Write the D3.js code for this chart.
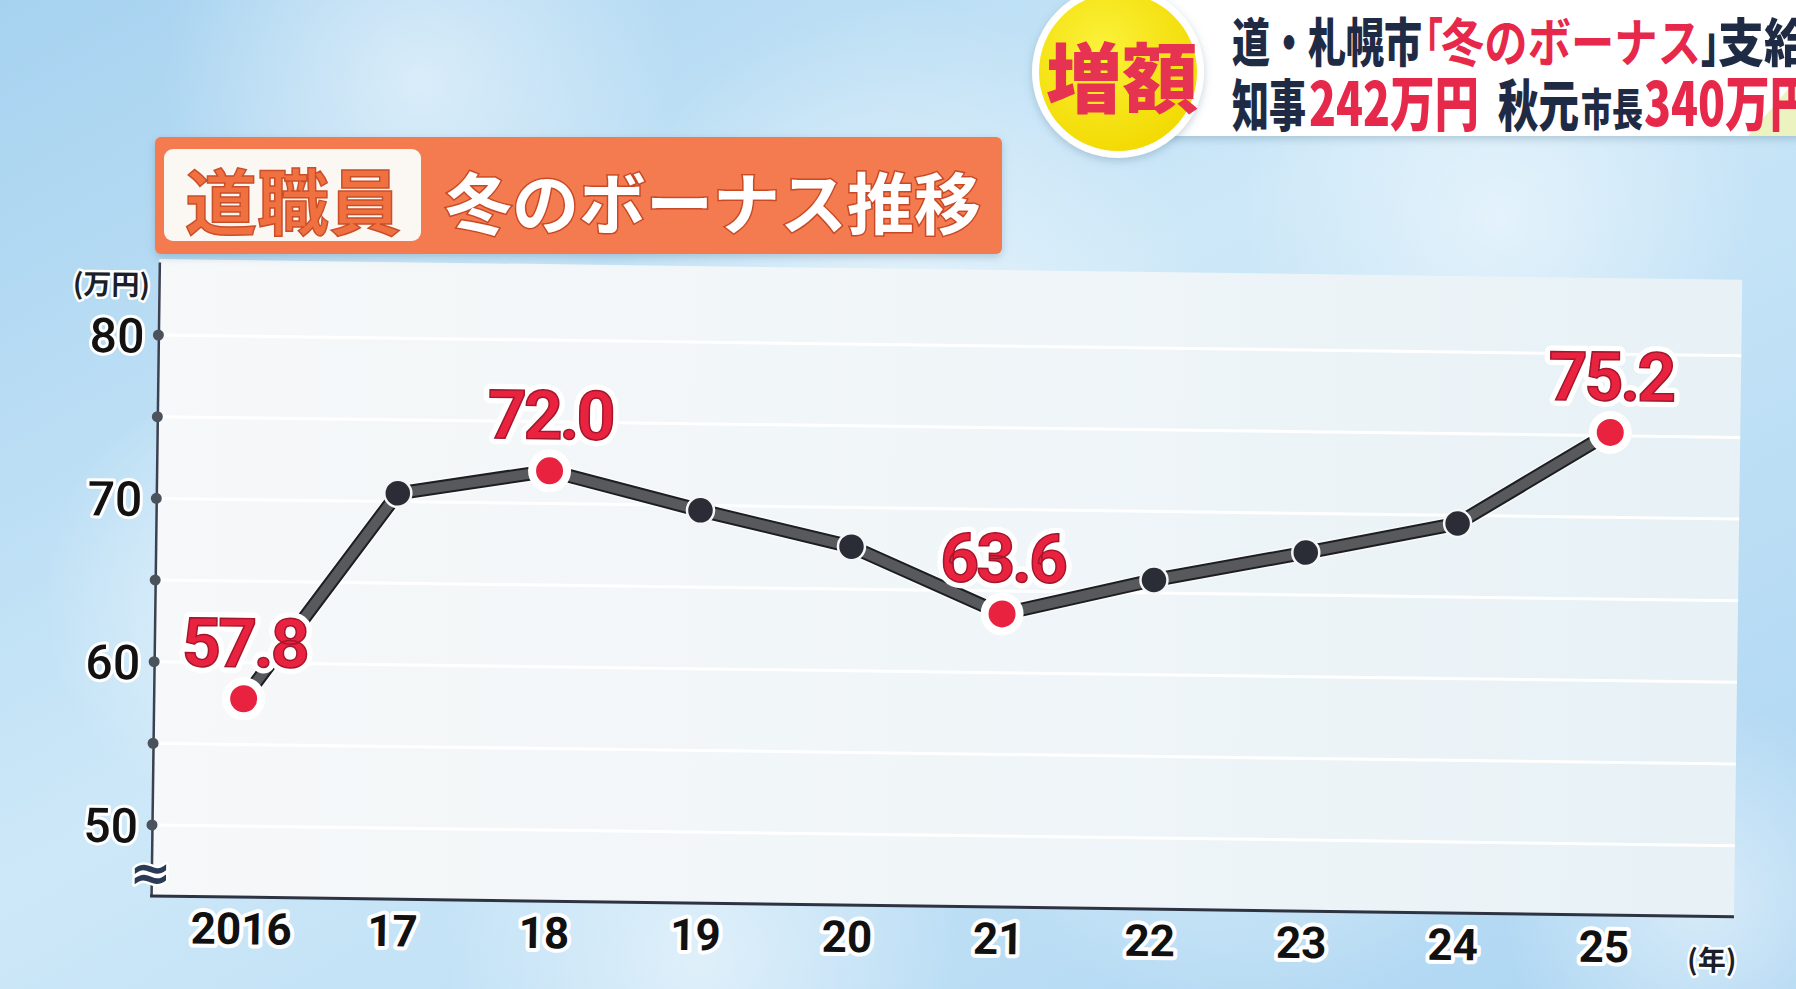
<!DOCTYPE html>
<html>
<head>
<meta charset="utf-8">
<script src="https://cdn.jsdelivr.net/npm/d3@7"></script>
<style>
html, body { margin: 0; padding: 0; overflow: hidden; background: #bde0f6; }
svg { display: block; }
</style>
</head>
<body>
<svg id="chart" width="1796" height="989"></svg>
<script>
// data
var years = ["2016", "17", "18", "19", "20", "21", "22", "23", "24", "25"];
var bonus = [57.8, 70.5, 72.0, 69.7, 67.6, 63.6, 65.8, 67.6, 69.5, 75.2];
var labeled = ["2016", "18", "21", "25"];
var yTicks = [50, 55, 60, 65, 70, 75, 80];
var yLabels = [50, 60, 70, 80];

var svg = d3.select("#chart");
var defs = svg.append("defs");

/* background gradients */
var bg = defs.append("linearGradient").attr("id", "bg")
  .attr("x1", 0).attr("y1", 0).attr("x2", 1).attr("y2", 1);
bg.append("stop").attr("offset", 0).attr("stop-color", "#a6d2f0");
bg.append("stop").attr("offset", 0.45).attr("stop-color", "#cde8f8");
bg.append("stop").attr("offset", 1).attr("stop-color", "#acd5f2");

var bokeh = defs.append("radialGradient").attr("id", "bokeh");
bokeh.append("stop").attr("offset", 0).attr("stop-color", "#ffffff").attr("stop-opacity", 0.5);
bokeh.append("stop").attr("offset", 1).attr("stop-color", "#ffffff").attr("stop-opacity", 0);

var panel = defs.append("linearGradient").attr("id", "panel")
  .attr("x1", 0).attr("y1", 0).attr("x2", 1).attr("y2", 0);
panel.append("stop").attr("offset", 0).attr("stop-color", "#f6f8f9");
panel.append("stop").attr("offset", 0.6).attr("stop-color", "#eff5f8");
panel.append("stop").attr("offset", 1).attr("stop-color", "#e7f1f6");

var yel = defs.append("radialGradient").attr("id", "yel")
  .attr("cx", 0.4).attr("cy", 0.35).attr("r", 0.7);
yel.append("stop").attr("offset", 0).attr("stop-color", "#fbf23a");
yel.append("stop").attr("offset", 1).attr("stop-color", "#f2d900");

var shadow = defs.append("filter").attr("id", "shadow")
  .attr("x", "-10%").attr("y", "-10%").attr("width", "120%").attr("height", "130%");
shadow.append("feDropShadow").attr("dx", 0).attr("dy", 3).attr("stdDeviation", 4)
  .attr("flood-color", "#5a7f99").attr("flood-opacity", 0.35);

svg.append("rect").attr("width", 1796).attr("height", 989).attr("fill", "url(#bg)");
[[420, 80, 260], [900, 300, 300], [1500, 220, 260], [260, 600, 220], [1250, 700, 320], [700, 960, 260], [1700, 900, 200]]
  .forEach(function(b) {
    svg.append("circle").attr("cx", b[0]).attr("cy", b[1]).attr("r", b[2]).attr("fill", "url(#bokeh)");
  });

/* scales: 50 -> 825px, 80 -> 335px */
var x = d3.scalePoint().domain(years).range([242, 1605]);
var y = d3.scaleLinear().domain([45.65, 84.47]).range([896, 262]);

/* chart group, slightly tilted like the photographed screen */
var g = svg.append("g").attr("transform", "rotate(0.75,152,825)");

g.append("rect")
  .attr("x", 152).attr("y", 259).attr("width", 1583).attr("height", 637)
  .attr("fill", "url(#panel)");

g.selectAll(".grid").data(yTicks).enter().append("line")
  .attr("class", "grid")
  .attr("x1", 154).attr("x2", 1735)
  .attr("y1", function(d) { return y(d); })
  .attr("y2", function(d) { return y(d); })
  .attr("stroke", "#ffffff").attr("stroke-width", 3);

/* y axis */
var yAxis = g.append("g").attr("transform", "translate(152,0)")
  .call(d3.axisLeft(y).tickValues(yLabels).tickSize(0).tickSizeOuter(0).tickPadding(14));
yAxis.select(".domain").attr("stroke", "#3b4150").attr("stroke-width", 2.5);
yAxis.selectAll("text")
  .attr("font-family", "Roboto, 'Liberation Sans', sans-serif")
  .attr("font-size", 48).attr("font-weight", 500).attr("fill", "#121212")
  .attr("dy", "0.36em")
  .attr("stroke", "#ffffff").attr("stroke-width", 6)
  .attr("stroke-linejoin", "round").attr("paint-order", "stroke");
g.selectAll(".ydot").data(yTicks).enter().append("circle")
  .attr("class", "ydot")
  .attr("cx", 152).attr("cy", function(d) { return y(d); })
  .attr("r", 5.5).attr("fill", "#4a525c");

/* x axis */
g.append("line")
  .attr("x1", 151).attr("x2", 1735).attr("y1", 896).attr("y2", 896)
  .attr("stroke", "#2d3342").attr("stroke-width", 3);
var xAxis = g.append("g").attr("transform", "translate(0,943)")
  .call(d3.axisBottom(x).tickSize(0).tickPadding(0));
xAxis.select(".domain").remove();
xAxis.selectAll("text")
  .attr("y", 0).attr("dy", 0)
  .attr("font-family", "Roboto, 'Liberation Sans', sans-serif")
  .attr("font-size", 44).attr("font-weight", 700).attr("fill", "#111111")
  .attr("stroke", "#ffffff").attr("stroke-width", 8)
  .attr("stroke-linejoin", "round").attr("paint-order", "stroke");

/* unit labels and axis break */
function halo(sel, w) {
  return sel.attr("stroke", "#ffffff").attr("stroke-width", w)
    .attr("stroke-linejoin", "round").attr("paint-order", "stroke");
}
halo(g.append("text").attr("x", 143).attr("y", 295).attr("text-anchor", "end")
  .attr("font-family", "'Noto Sans CJK JP', sans-serif").attr("font-size", 28)
  .attr("font-weight", 700).attr("fill", "#1a1f2a").text("(万円)"), 5);
halo(g.append("text").attr("x", 1738).attr("y", 950).attr("text-anchor", "end")
  .attr("font-family", "'Noto Sans CJK JP', sans-serif").attr("font-size", 28)
  .attr("font-weight", 700).attr("fill", "#1a1f2a").text("(年)"), 5);
halo(g.append("text").attr("x", 151).attr("y", 873).attr("text-anchor", "middle")
  .attr("dominant-baseline", "central")
  .attr("font-family", "'DejaVu Sans', sans-serif").attr("font-size", 50)
  .attr("font-weight", 700).attr("fill", "#2b3a55").text("≈"), 5);

/* line */
var line = d3.line()
  .x(function(d, i) { return x(years[i]); })
  .y(function(d) { return y(d); });
g.append("path").datum(bonus).attr("d", line)
  .attr("fill", "none").attr("stroke", "#ffffff").attr("stroke-width", 17)
  .attr("stroke-linejoin", "round").attr("opacity", 0.6);
g.append("path").datum(bonus).attr("d", line)
  .attr("fill", "none").attr("stroke", "#1d1e22").attr("stroke-width", 14)
  .attr("stroke-linejoin", "round");
g.append("path").datum(bonus).attr("d", line)
  .attr("fill", "none").attr("stroke", "#58595d").attr("stroke-width", 10)
  .attr("stroke-linejoin", "round");

/* points */
var pts = bonus.map(function(v, i) { return { year: years[i], value: v }; });
g.selectAll(".dark").data(pts.filter(function(d) { return labeled.indexOf(d.year) < 0; }))
  .enter().append("circle").attr("class", "dark")
  .attr("cx", function(d) { return x(d.year); })
  .attr("cy", function(d) { return y(d.value); })
  .attr("r", 13.5).attr("fill", "#2a2d35")
  .attr("stroke", "#f4f6f8").attr("stroke-width", 2.5);
var red = pts.filter(function(d) { return labeled.indexOf(d.year) >= 0; });
g.selectAll(".red").data(red)
  .enter().append("circle").attr("class", "red")
  .attr("cx", function(d) { return x(d.year); })
  .attr("cy", function(d) { return y(d.value); })
  .attr("r", 17.5).attr("fill", "#e8223f")
  .attr("stroke", "#ffffff").attr("stroke-width", 8);

/* value labels */
function valueText(sel) {
  return sel.attr("x", function(d) { return x(d.year); })
    .attr("y", function(d) { return y(d.value) - 32; })
    .attr("text-anchor", "middle")
    .attr("font-family", "Roboto, 'Liberation Sans', sans-serif")
    .attr("font-size", 68).attr("font-weight", 700)
    .attr("letter-spacing", -3)
    .text(function(d) { return d.value.toFixed(1); });
}
valueText(g.selectAll(".vh").data(red).enter().append("text").attr("class", "vh"))
  .attr("fill", "#ffffff").attr("stroke", "#ffffff").attr("stroke-width", 12)
  .attr("stroke-linejoin", "round");
valueText(g.selectAll(".vl").data(red).enter().append("text").attr("class", "vl"))
  .attr("fill", "#e8223f").attr("stroke", "#a3162c").attr("stroke-width", 1.5);

/* title box */
var t = svg.append("g").attr("filter", "url(#shadow)");
t.append("rect").attr("x", 155).attr("y", 137).attr("width", 847).attr("height", 117)
  .attr("rx", 6).attr("fill", "#f47a4f");
t.append("rect").attr("x", 164).attr("y", 149).attr("width", 257).attr("height", 92)
  .attr("rx", 9).attr("fill", "#fbf7f3");
t.append("text").attr("x", 293).attr("y", 197).attr("text-anchor", "middle")
  .attr("dominant-baseline", "central")
  .attr("font-family", "'Noto Sans CJK JP', sans-serif").attr("font-size", 72)
  .attr("font-weight", 700).attr("fill", "#f0703f")
  .attr("stroke", "#c9502c").attr("stroke-width", 1.5).text("道職員");
t.append("text").attr("x", 713).attr("y", 199).attr("text-anchor", "middle")
  .attr("dominant-baseline", "central")
  .attr("font-family", "'Noto Sans CJK JP', sans-serif").attr("font-size", 67)
  .attr("font-weight", 700).attr("fill", "#ffffff")
  .attr("stroke", "#c94a26").attr("stroke-width", 3).attr("paint-order", "stroke")
  .text("冬のボーナス推移");

/* top right banner */
var b = svg.append("g");
b.append("rect").attr("x", 1150).attr("y", -10).attr("width", 660).attr("height", 146)
  .attr("rx", 10).attr("fill", "#ffffff").attr("filter", "url(#shadow)");
b.append("path").attr("d", "M1748,136 L1796,80 L1796,136 Z").attr("fill", "#e6f0b0").attr("opacity", 0.8);
b.append("circle").attr("cx", 1118).attr("cy", 72).attr("r", 86)
  .attr("fill", "#ffffff").attr("filter", "url(#shadow)");
b.append("circle").attr("cx", 1118).attr("cy", 72).attr("r", 79).attr("fill", "url(#yel)");
b.append("text").attr("x", 1122).attr("y", 74).attr("text-anchor", "middle")
  .attr("dominant-baseline", "central")
  .attr("font-family", "'Noto Sans CJK JP', sans-serif").attr("font-size", 76)
  .attr("font-weight", 900).attr("fill", "#e63352").text("増額");

/* banner lines: each piece squeezed to its width with textLength */
var navy = "#1f2b44", pink = "#e6284a";
function piece(txt, px, py, len, size, color, weight) {
  b.append("text").attr("x", px).attr("y", py)
    .attr("textLength", len).attr("lengthAdjust", "spacingAndGlyphs")
    .attr("font-family", "'Noto Sans CJK JP', sans-serif")
    .attr("font-size", size).attr("font-weight", weight || 900)
    .attr("fill", color).text(txt);
}
piece("道・札幌市", 1232, 62, 190, 52, navy);
piece("「", 1407, 62, 36, 52, pink, 700);
piece("冬のボーナス", 1441, 62, 260, 52, pink, 700);
piece("」", 1701, 62, 36, 52, navy);
piece("支給", 1718, 62, 92, 52, navy);

piece("知事", 1232, 126, 74, 56, navy);
piece("242万円", 1309, 126, 170, 60, pink);
piece("秋元", 1498, 126, 81, 56, navy);
piece("市長", 1581, 126, 62, 44, navy);
piece("340万円", 1644, 126, 170, 60, pink);
</script>
</body>
</html>
